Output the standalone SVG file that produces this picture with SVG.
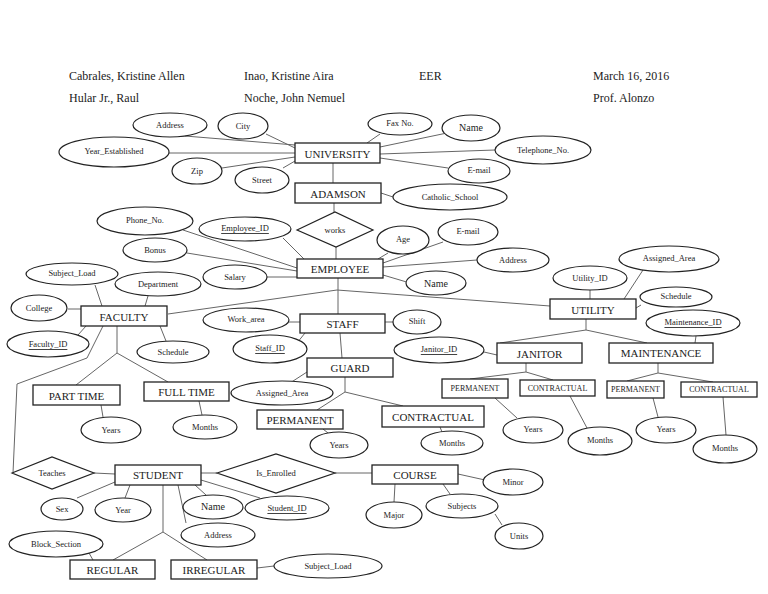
<svg xmlns="http://www.w3.org/2000/svg" width="768" height="594" viewBox="0 0 768 594">
<style>
text{font-family:"Liberation Serif","Times New Roman",serif;fill:#222;text-anchor:middle;dominant-baseline:central}
.hd{font-size:12px;text-anchor:start}
.en rect{fill:#fff;stroke:#222;stroke-width:1.3}
.en text{font-size:11px}
.sm text{font-size:8px}
.at ellipse{fill:#fff;stroke:#222;stroke-width:1.2}
.at text{font-size:8.5px}
.big text{font-size:10px}
.key text{text-decoration:underline}
.rel polygon{fill:#fff;stroke:#222;stroke-width:1.2}
.rel text{font-size:8.5px}
#connectors line,#connectors polyline{stroke:#666;stroke-width:1;fill:none}
</style>
<rect width="768" height="594" fill="#fff"/>
<g id="header">
<text class="hd" x="69" y="76">Cabrales, Kristine Allen</text>
<text class="hd" x="244" y="76">Inao, Kristine Aira</text>
<text class="hd" x="419" y="76">EER</text>
<text class="hd" x="593" y="76">March 16, 2016</text>
<text class="hd" x="69" y="98">Hular Jr., Raul</text>
<text class="hd" x="244" y="98">Noche, John Nemuel</text>
<text class="hd" x="593" y="98">Prof. Alonzo</text>
</g>
<g id="connectors">
<line x1="185" y1="136" x2="295" y2="145"/>
<line x1="266" y1="134" x2="295" y2="148"/>
<line x1="168" y1="153" x2="295" y2="153"/>
<line x1="222" y1="168" x2="295" y2="157"/>
<line x1="283" y1="168" x2="295" y2="161"/>
<line x1="380" y1="134" x2="367" y2="143"/>
<line x1="447" y1="133" x2="380" y2="147"/>
<line x1="495" y1="150" x2="380" y2="154"/>
<line x1="448" y1="168" x2="380" y2="158"/>
<line x1="333" y1="163" x2="333" y2="183"/>
<line x1="381" y1="193" x2="393" y2="197"/>
<line x1="334" y1="203" x2="334" y2="212"/>
<line x1="336" y1="247" x2="336" y2="259"/>
<line x1="183" y1="230" x2="297" y2="268"/>
<line x1="187" y1="253" x2="297" y2="271"/>
<line x1="283" y1="238" x2="304" y2="259"/>
<line x1="267" y1="277" x2="297" y2="277"/>
<line x1="378" y1="259" x2="388" y2="253"/>
<line x1="383" y1="263" x2="443" y2="242"/>
<line x1="383" y1="267" x2="477" y2="260"/>
<line x1="383" y1="275" x2="410" y2="283"/>
<line x1="338" y1="278" x2="338" y2="314"/>
<polyline points="168,314 337,290 550,306"/>
<line x1="289" y1="322" x2="300" y2="322"/>
<line x1="385" y1="322" x2="393" y2="322"/>
<line x1="297" y1="343" x2="305" y2="333"/>
<line x1="340" y1="333" x2="342" y2="358"/>
<line x1="307" y1="372" x2="290" y2="383"/>
<line x1="345" y1="377" x2="345" y2="392"/>
<polyline points="317,410 345,392 403,406"/>
<line x1="323" y1="429" x2="328" y2="433"/>
<line x1="440" y1="427" x2="442" y2="432"/>
<line x1="590" y1="290" x2="590" y2="299"/>
<line x1="643" y1="270" x2="624" y2="299"/>
<line x1="636" y1="308" x2="641" y2="305"/>
<line x1="696" y1="336" x2="695" y2="343"/>
<line x1="586" y1="319" x2="586" y2="330"/>
<polyline points="500,343 586,330 647,343"/>
<line x1="484" y1="352" x2="497" y2="355"/>
<line x1="526" y1="363" x2="526" y2="372"/>
<polyline points="470,379 526,372 553,380"/>
<line x1="495" y1="398" x2="517" y2="418"/>
<line x1="570" y1="396" x2="587" y2="428"/>
<line x1="658" y1="363" x2="658" y2="373"/>
<polyline points="627,381 658,373 713,382"/>
<line x1="653" y1="398" x2="658" y2="417"/>
<line x1="723" y1="397" x2="726" y2="435"/>
<line x1="95" y1="285" x2="102" y2="306"/>
<line x1="148" y1="296" x2="145" y2="306"/>
<line x1="68" y1="309" x2="81" y2="309"/>
<line x1="78" y1="335" x2="86" y2="326"/>
<line x1="160" y1="326" x2="166" y2="341"/>
<line x1="117" y1="326" x2="117" y2="353"/>
<polyline points="76,385 117,353 168,382"/>
<line x1="101" y1="405" x2="103" y2="417"/>
<line x1="199" y1="401" x2="202" y2="415"/>
<polyline points="103,326 87,358 17,384 13,473"/>
<line x1="94" y1="473" x2="115" y2="474"/>
<line x1="201" y1="473" x2="217" y2="473"/>
<line x1="335" y1="473" x2="372" y2="473"/>
<line x1="458" y1="474" x2="485" y2="480"/>
<line x1="395" y1="484" x2="394" y2="502"/>
<line x1="443" y1="484" x2="450" y2="494"/>
<line x1="495" y1="514" x2="502" y2="525"/>
<line x1="77" y1="498" x2="115" y2="482"/>
<line x1="125" y1="498" x2="130" y2="485"/>
<line x1="195" y1="485" x2="206" y2="495"/>
<line x1="201" y1="480" x2="260" y2="498"/>
<line x1="178" y1="485" x2="186" y2="523"/>
<line x1="163" y1="485" x2="163" y2="532"/>
<polyline points="113,560 163,532 207,560"/>
<line x1="89" y1="553" x2="93" y2="560"/>
<line x1="257" y1="568" x2="274" y2="566"/>
</g>
<g id="university" class="en"><rect x="295" y="143" width="85" height="20"/><text x="337.5" y="153.5">UNIVERSITY</text></g>
<g id="adamson" class="en"><rect x="295" y="183" width="86" height="20"/><text x="338" y="193.5">ADAMSON</text></g>
<g id="employee" class="en"><rect x="297" y="259" width="86" height="19"/><text x="340" y="269">EMPLOYEE</text></g>
<g id="faculty" class="en"><rect x="81" y="306" width="86" height="20"/><text x="124" y="316.5">FACULTY</text></g>
<g id="staff" class="en"><rect x="300" y="314" width="85" height="19"/><text x="342.5" y="324">STAFF</text></g>
<g id="utility" class="en"><rect x="550" y="299" width="86" height="20"/><text x="593" y="309.5">UTILITY</text></g>
<g id="guard" class="en"><rect x="307" y="358" width="86" height="19"/><text x="350" y="368">GUARD</text></g>
<g id="janitor" class="en"><rect x="497" y="343" width="85" height="20"/><text x="539.5" y="353.5">JANITOR</text></g>
<g id="maintenance" class="en"><rect x="609" y="343" width="104" height="20"/><text x="661" y="353">MAINTENANCE</text></g>
<g id="part_time" class="en"><rect x="33" y="385" width="87" height="20"/><text x="76.5" y="395.5">PART TIME</text></g>
<g id="full_time" class="en"><rect x="144" y="382" width="85" height="19"/><text x="186.5" y="391.5">FULL TIME</text></g>
<g id="guard_permanent" class="en"><rect x="257" y="410" width="86" height="19"/><text x="300" y="420">PERMANENT</text></g>
<g id="guard_contractual" class="en"><rect x="382" y="406" width="102" height="21"/><text x="433" y="416.5">CONTRACTUAL</text></g>
<g id="janitor_permanent" class="en sm"><rect x="442" y="379" width="66" height="19"/><text x="475" y="388.5">PERMANENT</text></g>
<g id="janitor_contractual" class="en sm"><rect x="520" y="380" width="75" height="16"/><text x="557.5" y="388">CONTRACTUAL</text></g>
<g id="maint_permanent" class="en sm"><rect x="607" y="381" width="57" height="17"/><text x="635.5" y="389.5">PERMANENT</text></g>
<g id="maint_contractual" class="en sm"><rect x="681" y="382" width="76" height="15"/><text x="719" y="389.5">CONTRACTUAL</text></g>
<g id="student" class="en"><rect x="115" y="465" width="86" height="20"/><text x="158" y="475">STUDENT</text></g>
<g id="course" class="en"><rect x="372" y="465" width="86" height="19"/><text x="415" y="474.5">COURSE</text></g>
<g id="regular" class="en"><rect x="70" y="560" width="85" height="19"/><text x="112.5" y="570">REGULAR</text></g>
<g id="irregular" class="en"><rect x="171" y="560" width="86" height="19"/><text x="214" y="570">IRREGULAR</text></g>
<g id="works" class="rel"><polygon points="297,230 335,212 373,230 336,247"/><text x="335" y="229.5">works</text></g>
<g id="teaches" class="rel"><polygon points="12,473 52,457 94,473 52,489"/><text x="52" y="473">Teaches</text></g>
<g id="is_enrolled" class="rel"><polygon points="217,473 276,454 335,473 276,493"/><text x="276" y="473">Is_Enrolled</text></g>
<g id="u_address" class="at"><ellipse cx="170" cy="125" rx="37" ry="12"/><text x="170" y="125">Address</text></g>
<g id="u_city" class="at"><ellipse cx="243" cy="126" rx="25" ry="13"/><text x="243" y="126">City</text></g>
<g id="u_year" class="at"><ellipse cx="114" cy="152" rx="55" ry="15"/><text x="114" y="151">Year_Established</text></g>
<g id="u_zip" class="at"><ellipse cx="197" cy="171" rx="25" ry="13"/><text x="197" y="171">Zip</text></g>
<g id="u_street" class="at"><ellipse cx="262" cy="180" rx="27" ry="13"/><text x="262" y="180">Street</text></g>
<g id="u_fax" class="at"><ellipse cx="400" cy="124" rx="32" ry="11"/><text x="400" y="123">Fax No.</text></g>
<g id="u_name" class="at big"><ellipse cx="471" cy="128" rx="29" ry="13"/><text x="471" y="127">Name</text></g>
<g id="u_tel" class="at"><ellipse cx="543" cy="150" rx="48" ry="14"/><text x="543" y="150">Telephone_No.</text></g>
<g id="u_email" class="at"><ellipse cx="479" cy="171" rx="31" ry="12"/><text x="479" y="170">E-mail</text></g>
<g id="catholic_school" class="at"><ellipse cx="450" cy="197" rx="57" ry="13"/><text x="450" y="197">Catholic_School</text></g>
<g id="e_phone" class="at"><ellipse cx="145" cy="221" rx="48" ry="14"/><text x="145" y="220">Phone_No.</text></g>
<g id="e_id" class="at key"><ellipse cx="245" cy="229" rx="46" ry="12"/><text x="245" y="228">Employee_ID</text></g>
<g id="e_bonus" class="at"><ellipse cx="155" cy="250" rx="32" ry="12"/><text x="155" y="250">Bonus</text></g>
<g id="e_salary" class="at"><ellipse cx="235" cy="277" rx="32" ry="12"/><text x="235" y="277">Salary</text></g>
<g id="e_age" class="at"><ellipse cx="403" cy="240" rx="26" ry="14"/><text x="403" y="239">Age</text></g>
<g id="e_email" class="at"><ellipse cx="468" cy="232" rx="30" ry="13"/><text x="468" y="231">E-mail</text></g>
<g id="e_address" class="at"><ellipse cx="513" cy="260" rx="36" ry="12"/><text x="513" y="260">Address</text></g>
<g id="e_name" class="at big"><ellipse cx="436" cy="283" rx="30" ry="12"/><text x="436" y="283">Name</text></g>
<g id="f_subject_load" class="at"><ellipse cx="72" cy="274" rx="46" ry="11"/><text x="72" y="273">Subject_Load</text></g>
<g id="f_department" class="at"><ellipse cx="158" cy="284" rx="43" ry="12"/><text x="158" y="284">Department</text></g>
<g id="f_college" class="at"><ellipse cx="39" cy="308" rx="28" ry="13"/><text x="39" y="308">College</text></g>
<g id="f_id" class="at key"><ellipse cx="48" cy="344" rx="41" ry="13"/><text x="48" y="344">Faculty_ID</text></g>
<g id="f_schedule" class="at"><ellipse cx="173" cy="352" rx="36" ry="11"/><text x="173" y="352">Schedule</text></g>
<g id="pt_years" class="at"><ellipse cx="111" cy="430" rx="30" ry="13"/><text x="111" y="430">Years</text></g>
<g id="ft_months" class="at"><ellipse cx="205" cy="427" rx="32" ry="12"/><text x="205" y="427">Months</text></g>
<g id="s_work_area" class="at"><ellipse cx="246" cy="320" rx="43" ry="12"/><text x="246" y="319">Work_area</text></g>
<g id="s_shift" class="at"><ellipse cx="417" cy="322" rx="24" ry="12"/><text x="417" y="321">Shift</text></g>
<g id="s_id" class="at key"><ellipse cx="270" cy="349" rx="37" ry="14"/><text x="270" y="348">Staff_ID</text></g>
<g id="g_assigned_area" class="at"><ellipse cx="282" cy="393" rx="51" ry="12"/><text x="282" y="393">Assigned_Area</text></g>
<g id="gp_years" class="at"><ellipse cx="339" cy="445" rx="29" ry="13"/><text x="339" y="445">Years</text></g>
<g id="gc_months" class="at"><ellipse cx="452" cy="443" rx="31" ry="12"/><text x="452" y="443">Months</text></g>
<g id="ut_id" class="at"><ellipse cx="590" cy="278" rx="37" ry="12"/><text x="590" y="278">Utility_ID</text></g>
<g id="ut_assigned_area" class="at"><ellipse cx="669" cy="259" rx="50" ry="13"/><text x="669" y="258">Assigned_Area</text></g>
<g id="ut_schedule" class="at"><ellipse cx="676" cy="297" rx="36" ry="10"/><text x="676" y="296">Schedule</text></g>
<g id="m_id" class="at key"><ellipse cx="693" cy="323" rx="47" ry="13"/><text x="693" y="322">Maintenance_ID</text></g>
<g id="j_id" class="at key"><ellipse cx="439" cy="350" rx="45" ry="13"/><text x="439" y="349">Janitor_ID</text></g>
<g id="jp_years" class="at"><ellipse cx="533" cy="430" rx="30" ry="13"/><text x="533" y="429">Years</text></g>
<g id="jc_months" class="at"><ellipse cx="600" cy="441" rx="32" ry="14"/><text x="600" y="440">Months</text></g>
<g id="mp_years" class="at"><ellipse cx="666" cy="430" rx="30" ry="13"/><text x="666" y="429">Years</text></g>
<g id="mc_months" class="at"><ellipse cx="725" cy="449" rx="32" ry="14"/><text x="725" y="448">Months</text></g>
<g id="c_minor" class="at"><ellipse cx="513" cy="482" rx="30" ry="13"/><text x="513" y="482">Minor</text></g>
<g id="c_major" class="at"><ellipse cx="394" cy="515" rx="28" ry="13"/><text x="394" y="515">Major</text></g>
<g id="c_subjects" class="at"><ellipse cx="462" cy="506" rx="36" ry="12"/><text x="462" y="506">Subjects</text></g>
<g id="c_units" class="at"><ellipse cx="519" cy="536" rx="24" ry="13"/><text x="519" y="536">Units</text></g>
<g id="st_sex" class="at"><ellipse cx="62" cy="509" rx="21" ry="11"/><text x="62" y="509">Sex</text></g>
<g id="st_year" class="at"><ellipse cx="123" cy="510" rx="28" ry="12"/><text x="123" y="510">Year</text></g>
<g id="st_name" class="at big"><ellipse cx="213" cy="507" rx="30" ry="12"/><text x="213" y="506">Name</text></g>
<g id="st_id" class="at key"><ellipse cx="287" cy="508" rx="42" ry="12"/><text x="287" y="508">Student_ID</text></g>
<g id="st_address" class="at"><ellipse cx="218" cy="535" rx="37" ry="12"/><text x="218" y="535">Address</text></g>
<g id="block_section" class="at"><ellipse cx="56" cy="544" rx="47" ry="13"/><text x="56" y="544">Block_Section</text></g>
<g id="ir_subject_load" class="at"><ellipse cx="328" cy="566" rx="54" ry="12"/><text x="328" y="566">Subject_Load</text></g>
</svg>
